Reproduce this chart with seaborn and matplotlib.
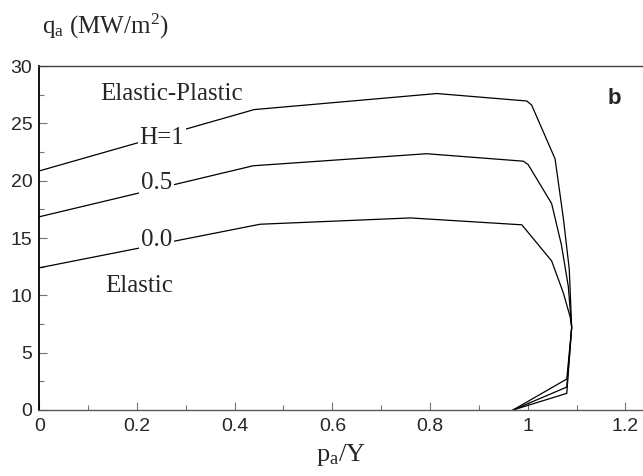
import numpy as np
import pandas as pd
import matplotlib
matplotlib.use("Agg")
import matplotlib.pyplot as plt
from matplotlib.ticker import MultipleLocator, FormatStrFormatter
import seaborn as sns

# curves q_a vs p_a/Y for three hardening values
h1_p = [0.0, 0.44, 0.814, 0.998, 1.008, 1.056, 1.073, 1.085, 1.090, 1.080, 0.970]
h1_q = [20.85, 26.2, 27.6, 26.95, 26.6, 21.9, 16.7, 12.3, 7.2, 2.7, 0.0]

h05_p = [0.0, 0.438, 0.793, 0.991, 1.001, 1.049, 1.069, 1.083, 1.090, 1.080, 0.970]
h05_q = [16.85, 21.3, 22.35, 21.7, 21.4, 18.0, 14.4, 10.8, 7.2, 2.0, 0.0]

h0_p = [0.0, 0.452, 0.76, 0.988, 1.049, 1.073, 1.087, 1.090, 1.080, 0.970]
h0_q = [12.4, 16.2, 16.75, 16.15, 13.0, 10.2, 8.1, 7.2, 1.45, 0.0]

curve_names = ["H=1", "0.5", "0.0"]
x_ticks = [0, 0.2, 0.4, 0.6, 0.8, 1.0, 1.2]
y_ticks = [0, 5, 10, 15, 20, 25, 30]

sns.set_style("ticks")
plt.rcParams["font.family"] = ["Liberation Sans", "DejaVu Sans"]
plt.rcParams["mathtext.fontset"] = "custom"
plt.rcParams["mathtext.rm"] = "Liberation Serif"
plt.rcParams["mathtext.it"] = "Liberation Serif:italic"

rows = []
for name, ps, qs in zip(curve_names, [h1_p, h05_p, h0_p], [h1_q, h05_q, h0_q]):
    for i, (p, q) in enumerate(zip(ps, qs)):
        rows.append({"curve": name, "order": i, "p": p, "q": q})
df = pd.DataFrame(rows)

fig = plt.figure(figsize=(6.43, 4.76), dpi=100)
ax = fig.add_axes([0.061, 0.1387, 0.939, 0.7226])

sns.lineplot(data=df, x="p", y="q", units="curve", estimator=None, sort=False,
             color="black", linewidth=0.9, ax=ax, legend=False)

ax.set_xlim(0, 1.236)
ax.set_ylim(0, 30)
ax.set_xticks(x_ticks)
ax.set_yticks(y_ticks)
ax.xaxis.set_minor_locator(MultipleLocator(0.1))
ax.yaxis.set_minor_locator(MultipleLocator(2.5))
ax.xaxis.set_major_formatter(FormatStrFormatter("%g"))
ax.tick_params(which="both", direction="in", color="0.45", labelsize=14)
ax.tick_params(which="major", length=6, width=0.8)
ax.tick_params(which="minor", length=3.5, width=0.8)
ax.tick_params(axis="y", pad=5)
ax.tick_params(axis="x", pad=6)

ax.spines["right"].set_visible(False)
ax.spines["left"].set_linewidth(1.3)
ax.spines["left"].set_color("black")
ax.spines["top"].set_linewidth(1.0)
ax.spines["top"].set_color("0.25")
ax.spines["bottom"].set_linewidth(1.0)
ax.spines["bottom"].set_color("0.35")

serif = ["Liberation Serif", "DejaVu Serif"]
box = dict(facecolor="white", edgecolor="none", pad=1.0)
ax.text(0.27, 27.6, "Elastic-Plastic", family=serif, fontsize=18, ha="center", va="center")
ax.text(0.251, 23.7, "H=1", family=serif, fontsize=18, ha="center", va="center", bbox=box)
ax.text(0.24, 19.8, "0.5", family=serif, fontsize=18, ha="center", va="center", bbox=box)
ax.text(0.24, 14.8, "0.0", family=serif, fontsize=18, ha="center", va="center", bbox=box)
ax.text(0.205, 10.8, "Elastic", family=serif, fontsize=18, ha="center", va="center")
ax.text(1.178, 27.2, "b", fontsize=16, fontweight="bold", ha="center", va="center")

ax.set_xlabel(r"p$_\mathrm{a}$/Y", family=serif, fontsize=19, labelpad=5)
ax.set_ylabel("")
fig.text(0.065, 0.945, r"q$_\mathrm{a}$ (MW/m$^\mathrm{2}$)", family=serif, fontsize=18,
         ha="left", va="center")

fig.savefig("out.png", dpi=100)
